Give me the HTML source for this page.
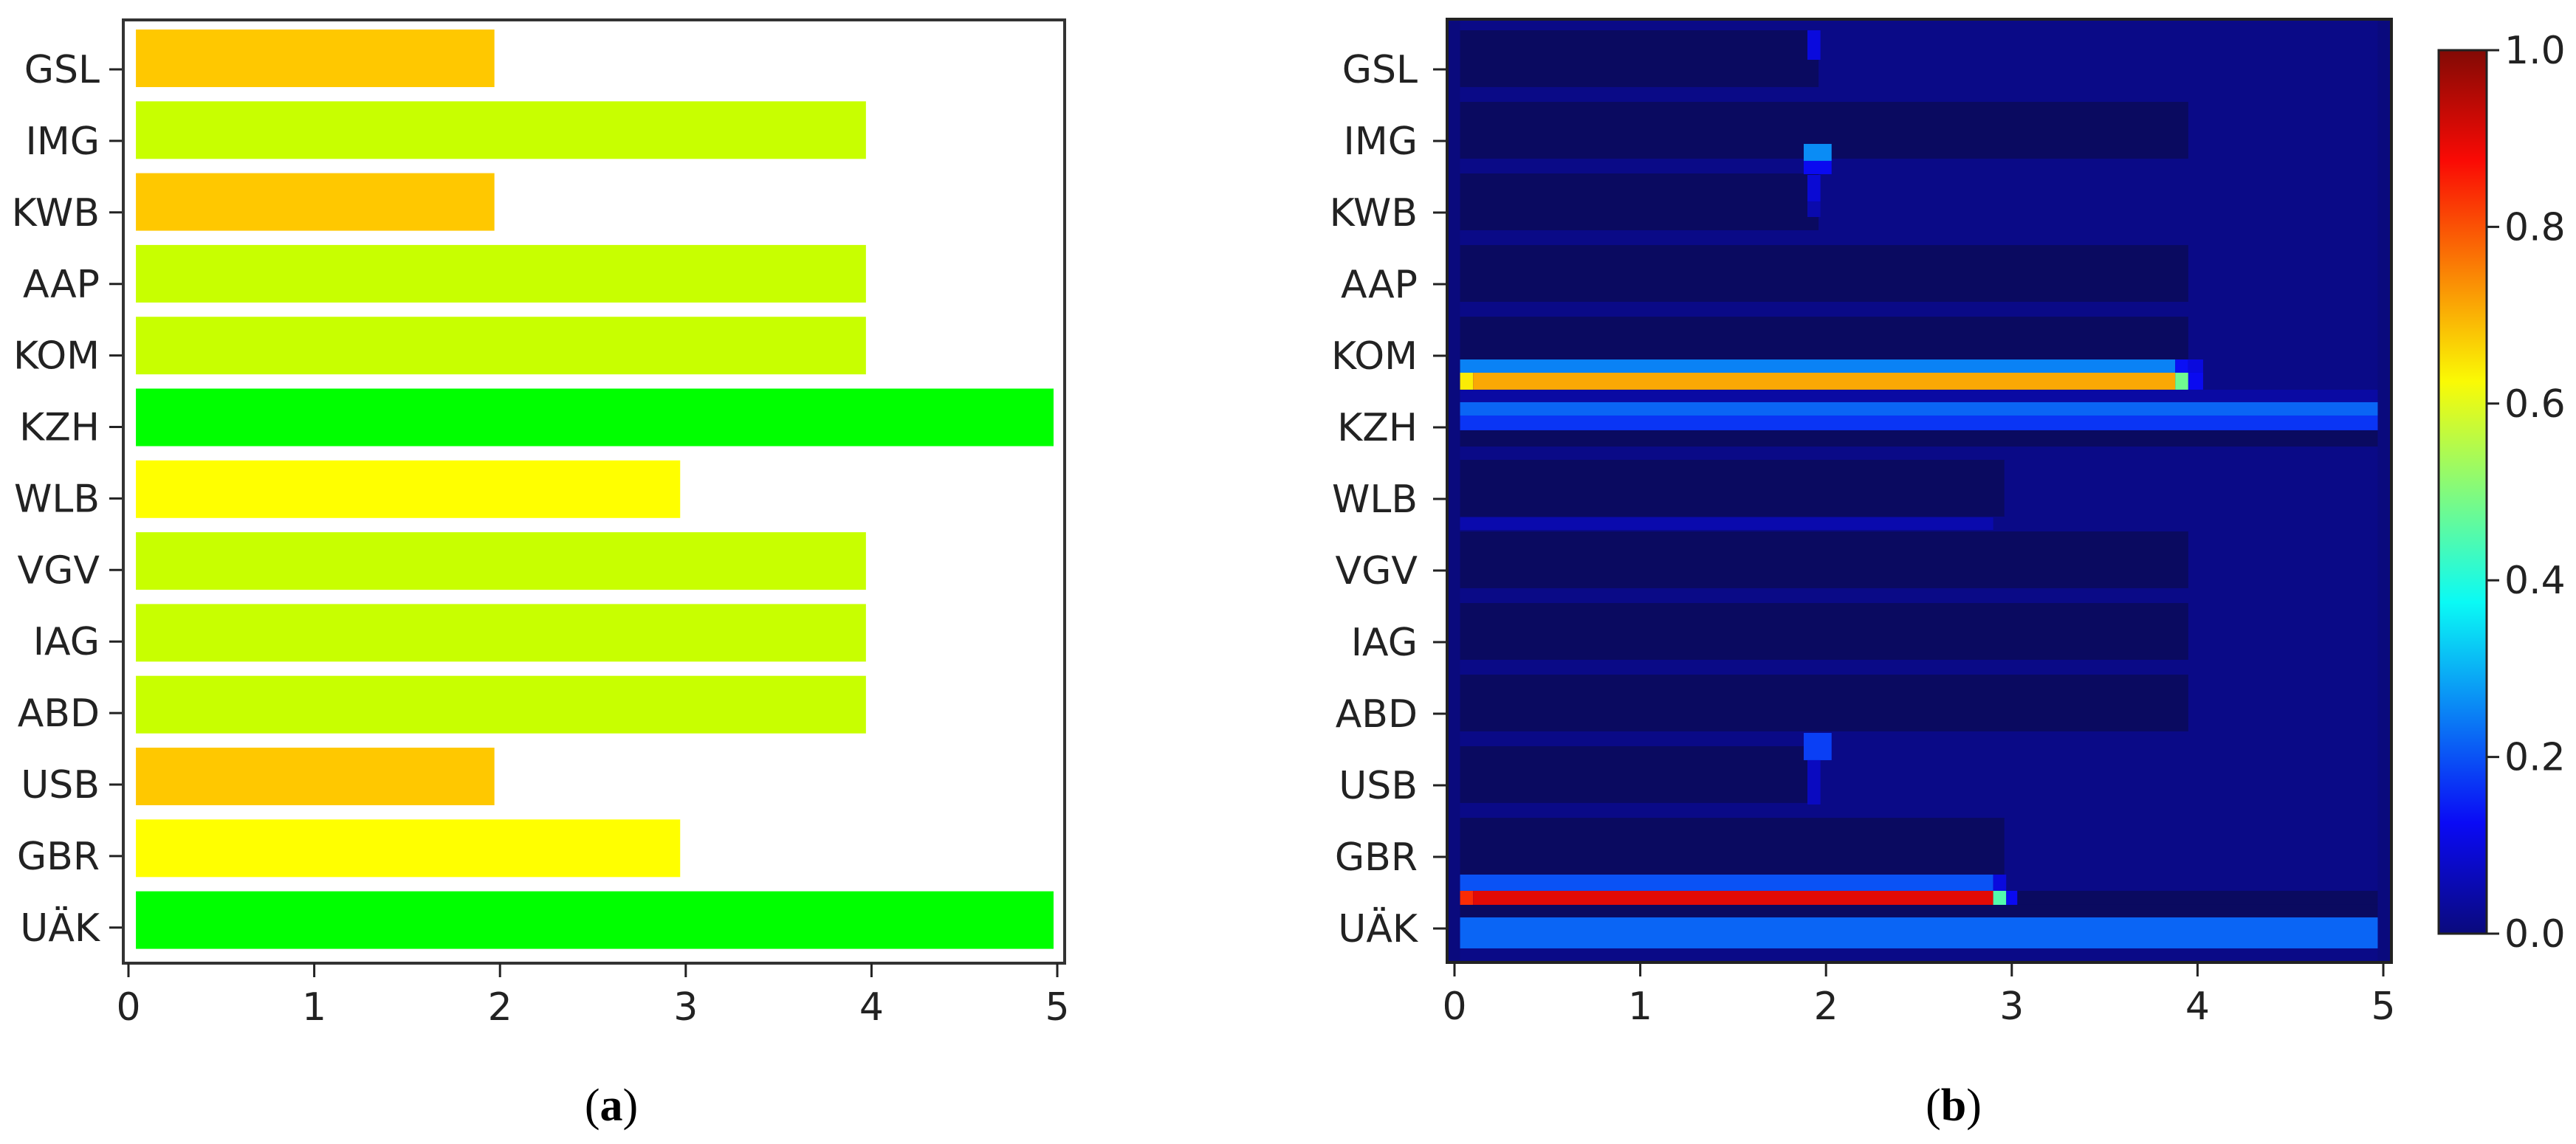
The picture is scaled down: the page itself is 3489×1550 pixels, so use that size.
<!DOCTYPE html>
<html><head><meta charset="utf-8">
<style>
html,body{margin:0;padding:0;background:#fff;}
svg{display:block;}
text{font-family:"DejaVu Sans","Liberation Sans",sans-serif;fill:#222;}
.cap{font-family:"Liberation Serif",serif;fill:#000;}
</style></head>
<body>
<svg id="fig" width="3489" height="1550" viewBox="0 0 3489 1550" xmlns="http://www.w3.org/2000/svg">
  <g id="panelA"></g>
  <g id="panelB"></g>
  <text class="cap" x="828" y="1518" font-size="62" text-anchor="middle">(<tspan font-weight="bold">a</tspan>)</text>
  <text class="cap" x="2646" y="1518" font-size="62" text-anchor="middle">(<tspan font-weight="bold">b</tspan>)</text>
</svg>
<script>
// ---- data ----
const categories = ["GSL","IMG","KWB","AAP","KOM","KZH","WLB","VGV","IAG","ABD","USB","GBR","UÄK"];
const barValues = [1.97,3.97,1.97,3.97,3.97,4.98,2.97,3.97,3.97,3.97,1.97,2.97,4.98];
const barColors = ["#ffc800","#c8ff00","#ffc800","#c8ff00","#c8ff00","#00ff00","#ffff00","#c8ff00","#c8ff00","#c8ff00","#ffc800","#ffff00","#00ff00"];
const xTicks = [0,1,2,3,4,5];
const cbTicks = [0.0,0.2,0.4,0.6,0.8,1.0];
const hmBlockLen = [1.96,3.95,1.96,3.95,3.95,0,2.96,3.95,3.95,3.95,1.96,2.96,0];
// heatmap feature segments: y-start, y-end (category units), x-start, x-end, value
const segY0 = [-0.546,1.041,1.278,1.474,1.845, 4.052,4.052,4.052, 4.237,4.237,4.237,4.237, 4.474, 4.649,4.835,5.041, 6.258, 9.268,9.649, 11.247,11.247, 11.474,11.474,11.474,11.474,11.474, 11.67, 11.845];
const segY1 = [-0.134,1.278,1.464,1.845,2.062, 4.237,4.237,4.237, 4.474,4.474,4.474,4.474, 4.649, 4.835,5.041,5.268, 6.433, 9.649,10.268, 11.474,11.474, 11.67,11.67,11.67,11.67,11.67, 11.845, 12.278];
const segX0 = [1.90,1.88,1.88,1.90,1.90, 0.03,3.88,3.95, 0.03,0.10,3.88,3.95, 0.03, 0.03,0.03,0.03, 0.03, 1.88,1.90, 0.03,2.90, 0.03,0.10,2.90,2.97,3.03, 0.03, 0.03];
const segX1 = [1.97,2.03,2.03,1.97,1.97, 3.88,3.95,4.03, 0.10,3.88,3.95,4.03, 4.97, 4.97,4.97,4.97, 2.90, 2.03,1.97, 2.90,2.97, 0.10,2.90,2.97,3.03,4.97, 4.97, 4.97];
const segV  = [0.10,0.26,0.12,0.09,0.05, 0.25,0.13,0.10, 0.64,0.71,0.48,0.12, 0.04, 0.22,0.17,-0.03, 0.05, 0.18,0.07, 0.20,0.10, 0.84,0.90,0.45,0.12,-0.03, -0.03, 0.22];

const NS="http://www.w3.org/2000/svg";
function mk(tag,attrs,parent){const e=document.createElementNS(NS,tag);for(const k in attrs)e.setAttribute(k,attrs[k]);parent.appendChild(e);return e;}

function jet(v){
  function c(x){return Math.max(0,Math.min(1,x));}
  let r=c(Math.min(4*v-1.5,-4*v+4.5));
  let g=c(Math.min(4*v-0.5,-4*v+3.5));
  let b=c(Math.min(4*v+0.5,-4*v+2.5));
  if(v<0.125) b=Math.max(0.3,0.5+4*v);
  r=r*0.94+0.04; g=g*0.94+0.04; b=b*0.94+0.02;
  return "rgb("+Math.round(r*255)+","+Math.round(g*255)+","+Math.round(b*255)+")";
}

// ---- panel A ----
const A=document.getElementById("panelA");
const aL=167,aR=1442,aT=27,aB=1305;
const ax=v=>174+v*251.6;
const ay=k=>79+k*97.3;      // bar centres
const aTick=k=>94+k*96.9;   // tick positions
mk("rect",{x:aL,y:aT,width:aR-aL,height:aB-aT,fill:"#fff"},A);
categories.forEach((c,i)=>{
  const r=mk("rect",{x:ax(0.04),y:ay(i)-39,width:ax(barValues[i])-ax(0.04),height:78,fill:barColors[i]},A);
  
  
  mk("line",{x1:aL-19,x2:aL,y1:aTick(i),y2:aTick(i),stroke:"#222","stroke-width":3},A);
  const t=mk("text",{x:aL-32,y:aTick(i)+18,"font-size":52,"text-anchor":"end"},A);
  t.textContent=c;
  
  
});
mk("rect",{x:aL,y:aT,width:aR-aL,height:aB-aT,fill:"none",stroke:"#333","stroke-width":4},A);
xTicks.forEach(v=>{
  mk("line",{x1:ax(v),x2:ax(v),y1:aB,y2:aB+19,stroke:"#222","stroke-width":3},A);
  const t=mk("text",{x:ax(v),y:aB+77,"font-size":52,"text-anchor":"middle"},A);
  t.textContent=v;
  
  
});

// ---- panel B ----
const B=document.getElementById("panelB");
const bL=1960,bR=3239,bT=26,bB=1304;
const bx=v=>1970+v*251.6;
const by=u=>94+u*97;
mk("rect",{x:bL,y:bT,width:bR-bL,height:bB-bT,fill:jet(0.0)},B);
mk("rect",{x:bx(0.03),y:by(-0.7),width:bx(4.97)-bx(0.03),height:by(12.45)-by(-0.7),fill:jet(0.01)},B);
hmBlockLen.forEach((L,k)=>{
  if(L<=0) return;
  const r=mk("rect",{x:bx(0.03),y:by(k-0.546),width:bx(L)-bx(0.03),height:by(k+0.247)-by(k-0.546),fill:jet(-0.03)},B);
  
  
});
segV.forEach((v,i)=>{
  const r=mk("rect",{x:bx(segX0[i]),y:by(segY0[i]),width:bx(segX1[i])-bx(segX0[i]),height:by(segY1[i])-by(segY0[i]),fill:jet(v)},B);
  
  
});
mk("rect",{x:bL,y:bT,width:bR-bL,height:bB-bT,fill:"none",stroke:"#222","stroke-width":4},B);
categories.forEach((c,k)=>{
  mk("line",{x1:bL-19,x2:bL,y1:by(k),y2:by(k),stroke:"#222","stroke-width":3},B);
  const t=mk("text",{x:bL-40,y:by(k)+18,"font-size":52,"text-anchor":"end"},B);
  t.textContent=c;
  
  
});
xTicks.forEach(v=>{
  mk("line",{x1:bx(v),x2:bx(v),y1:bB,y2:bB+19,stroke:"#222","stroke-width":3},B);
  const t=mk("text",{x:bx(v),y:bB+77,"font-size":52,"text-anchor":"middle"},B);
  t.textContent=v;
  
  
});

// colorbar
const cL=3303,cR=3368,cT=68,cBt=1265;
const cy=v=>cBt-v*(cBt-cT);
const defs=mk("defs",{},B);
const grad=mk("linearGradient",{id:"jetgrad",x1:0,y1:1,x2:0,y2:0},defs);
for(let i=0;i<=40;i++){const v=i/40;mk("stop",{offset:v,"stop-color":jet(v)},grad);}
const cb=mk("rect",{x:cL,y:cT,width:cR-cL,height:cBt-cT,fill:"url(#jetgrad)",stroke:"#222","stroke-width":3},B);


cbTicks.forEach(v=>{
  mk("line",{x1:cR,x2:cR+17,y1:cy(v),y2:cy(v),stroke:"#222","stroke-width":3},B);
  const t=mk("text",{x:cR+24,y:cy(v)+18,"font-size":52},B);
  t.textContent=v.toFixed(1);
  
  
});
</script>
</body></html>
